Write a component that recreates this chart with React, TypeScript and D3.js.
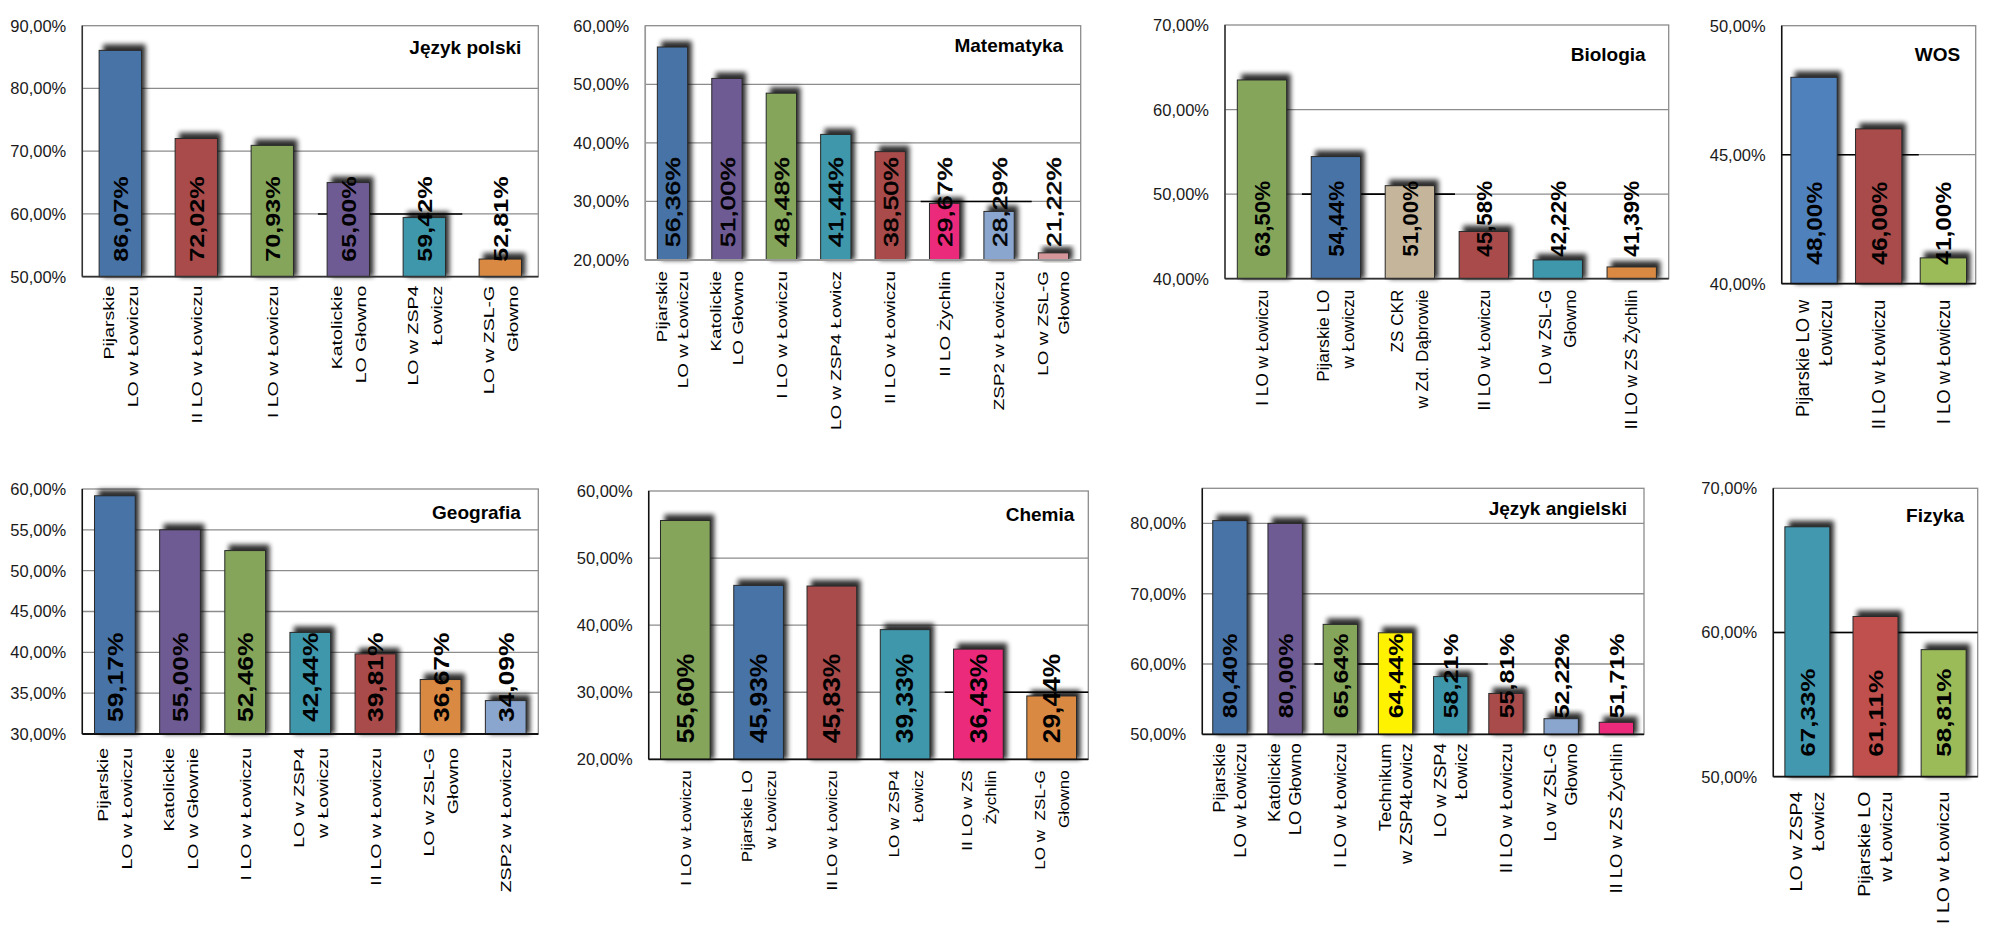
import React from 'react';
import * as d3 from 'd3';

// ---------- DATA ----------
const polskiSchools = ['Pijarskie\nLO w Łowiczu', 'II LO w Łowiczu', 'I LO w Łowiczu', 'Katolickie\nLO Głowno', 'LO w ZSP4\nŁowicz', 'LO w ZSL-G\nGłowno'];
const polskiValues = [86.07, 72.02, 70.93, 65.0, 59.42, 52.81];

const matSchools = ['Pijarskie\nLO w Łowiczu', 'Katolickie\nLO Głowno', 'I LO w Łowiczu', 'LO w ZSP4 Łowicz', 'II LO w Łowiczu', 'II LO Żychlin', 'ZSP2 w Łowiczu', 'LO w ZSL-G\nGłowno'];
const matValues = [56.36, 51.0, 48.48, 41.44, 38.5, 29.67, 28.29, 21.22];

const bioSchools = ['I LO w Łowiczu', 'Pijarskie LO\nw Łowiczu', 'ZS CKR\nw Zd. Dąbrowie', 'II LO w Łowiczu', 'LO w ZSL-G\nGłowno', 'II LO w ZS Żychlin'];
const bioValues = [63.5, 54.44, 51.0, 45.58, 42.22, 41.39];

const wosSchools = ['Pijarskie LO w\nŁowiczu', 'II LO w Łowiczu', 'I LO w Łowiczu'];
const wosValues = [48.0, 46.0, 41.0];

const geoSchools = ['Pijarskie\nLO w Łowiczu', 'Katolickie\nLO w Głownie', 'I LO w Łowiczu', 'LO w ZSP4\nw Łowiczu', 'II LO w Łowiczu', 'LO w ZSL-G\nGłowno', 'ZSP2 w Łowiczu'];
const geoValues = [59.17, 55.0, 52.46, 42.44, 39.81, 36.67, 34.09];

const chemSchools = ['I LO w Łowiczu', 'Pijarskie LO\nw Łowiczu', 'II LO w Łowiczu', 'LO w ZSP4\nŁowicz', 'II LO w ZS\nŻychlin', 'LO w  ZSL-G\nGłowno'];
const chemValues = [55.6, 45.93, 45.83, 39.33, 36.43, 29.44];

const angSchools = ['Pijarskie\nLO w Łowiczu', 'Katolickie\nLO Głowno', 'I LO w Łowiczu', 'Technikum\nw ZSP4Łowicz', 'LO w ZSP4\nŁowicz', 'II LO w Łowiczu', 'Lo w ZSL-G\nGłowno', 'II LO w ZS Żychlin'];
const angValues = [80.4, 80.0, 65.64, 64.44, 58.21, 55.81, 52.22, 51.71];

const fizSchools = ['LO w ZSP4\nŁowicz', 'Pijarskie LO\nw Łowiczu', 'I LO w Łowiczu'];
const fizValues = [67.33, 61.11, 58.81];

const polskiTicks = [50, 60, 70, 80, 90];
const matTicks = [20, 30, 40, 50, 60];
const bioTicks = [40, 50, 60, 70];
const wosTicks = [40, 45, 50];
const geoTicks = [30, 35, 40, 45, 50, 55, 60];
const chemTicks = [20, 30, 40, 50, 60];
const angTicks = [50, 60, 70, 80];
const fizTicks = [50, 60, 70];

// reference (average) line: value, from / to in category units
const polskiRef = [60, 3.1, 5.0];
const matRef = [30, 5.06, 7.1];
const bioRef = [50, 1.04, 3.11];
const wosRef = [45, 0, 2.12];
const geoRef = [30, 1.05, 5.13];
const chemRef = [30, 4.04, 6.0];
const angRef = [60, 2.03, 5.17];
const fizRef = [60, 0, 3];

// ---------- COLOURS ----------
const C = {
  blue: '#4773A7', red: '#A94B4A', green: '#84A55A', purple: '#6F5B93', teal: '#3F97AB',
  orange: '#D98942', tan: '#C4B59B', pink: '#EC2A7C', lblue: '#8AA5CE', yellow: '#FFF200',
  rose: '#D4969A', wblue: '#4F81BD', wgreen: '#9BBB59', fred: '#C0504D', fteal: '#4298AF',
};
const polskiColors = [C.blue, C.red, C.green, C.purple, C.teal, C.orange];
const matColors = [C.blue, C.purple, C.green, C.teal, C.red, C.pink, C.lblue, C.rose];
const bioColors = [C.green, C.blue, C.tan, C.red, C.teal, C.orange];
const wosColors = [C.wblue, C.red, C.wgreen];
const geoColors = [C.blue, C.purple, C.green, C.teal, C.red, C.orange, C.lblue];
const chemColors = [C.green, C.blue, C.red, C.teal, C.pink, C.orange];
const angColors = [C.blue, C.purple, C.green, C.yellow, C.teal, C.red, C.lblue, C.pink];
const fizColors = [C.fteal, C.fred, C.wgreen];

// ---------- LAYOUT ----------
type Cfg = {
  title: string; schools: string[]; values: number[]; colors: string[]; ticks: number[]; ref: number[];
  domain: [number, number]; x0: number; x1: number; y0: number; y1: number; pad: number;
  titleDx: number; titleDy: number;
  vFont: number; vStretch: number; vGap: number; vBold: boolean;
  cFont: number; cStretch: number; cLine: number; cGap: number; axisColor: string;
};

const panels: Cfg[] = [
  { title: 'Język polski', schools: polskiSchools, values: polskiValues, colors: polskiColors, ticks: polskiTicks, ref: polskiRef,
    domain: [50, 90], x0: 82.3, x1: 538.3, y0: 25.7, y1: 276.7, pad: 0.443, titleDx: 17, titleDy: 28.5,
    vFont: 21, vStretch: 1.2, vGap: 15, vBold: true, cFont: 15.5, cStretch: 1.26, cLine: 24, cGap: 9, axisColor: '#333' },
  { title: 'Matematyka', schools: matSchools, values: matValues, colors: matColors, ticks: matTicks, ref: matRef,
    domain: [20, 60], x0: 645.3, x1: 1080.7, y0: 25.7, y1: 260, pad: 0.443, titleDx: 17.5, titleDy: 26.5,
    vFont: 21, vStretch: 1.26, vGap: 13, vBold: false, cFont: 14.5, cStretch: 1.3, cLine: 21.5, cGap: 11, axisColor: '#999' },
  { title: 'Biologia', schools: bioSchools, values: bioValues, colors: bioColors, ticks: bioTicks, ref: bioRef,
    domain: [40, 70], x0: 1225, x1: 1668.7, y0: 25, y1: 278.7, pad: 0.333, titleDx: 23, titleDy: 35.5,
    vFont: 21.5, vStretch: 1.04, vGap: 22, vBold: true, cFont: 16, cStretch: 1.07, cLine: 25, cGap: 11, axisColor: '#333' },
  { title: 'WOS', schools: wosSchools, values: wosValues, colors: wosColors, ticks: wosTicks, ref: wosRef,
    domain: [40, 50], x0: 1781.7, x1: 1975.7, y0: 25.7, y1: 283.7, pad: 0.284, titleDx: 15.5, titleDy: 35.5,
    vFont: 22, vStretch: 1.11, vGap: 19, vBold: true, cFont: 18, cStretch: 1.02, cLine: 23, cGap: 16, axisColor: '#111' },
  { title: 'Geografia', schools: geoSchools, values: geoValues, colors: geoColors, ticks: geoTicks, ref: geoRef,
    domain: [30, 60], x0: 82.3, x1: 538.3, y0: 489, y1: 734, pad: 0.375, titleDx: 17.5, titleDy: 29.5,
    vFont: 22, vStretch: 1.2, vGap: 12, vBold: true, cFont: 15.5, cStretch: 1.26, cLine: 24, cGap: 14, axisColor: '#111' },
  { title: 'Chemia', schools: chemSchools, values: chemValues, colors: chemColors, ticks: chemTicks, ref: chemRef,
    domain: [20, 60], x0: 648.7, x1: 1088.3, y0: 491, y1: 759.3, pad: 0.322, titleDx: 14, titleDy: 29.5,
    vFont: 23, vStretch: 1.15, vGap: 16, vBold: true, cFont: 15.5, cStretch: 1.1, cLine: 24, cGap: 11, axisColor: '#111' },
  { title: 'Język angielski', schools: angSchools, values: angValues, colors: angColors, ticks: angTicks, ref: angRef,
    domain: [50, 85], x0: 1202.3, x1: 1644, pad: 0.378, titleDx: 17, titleDy: 26.5, y0: 488.3, y1: 734.3,
    vFont: 21, vStretch: 1.19, vGap: 16, vBold: true, cFont: 16, cStretch: 1.15, cLine: 21, cGap: 9, axisColor: '#111' },
  { title: 'Fizyka', schools: fizSchools, values: fizValues, colors: fizColors, ticks: fizTicks, ref: fizRef,
    domain: [50, 70], x0: 1773.3, x1: 1977.7, y0: 488.3, y1: 776.7, pad: 0.34, titleDx: 13.5, titleDy: 34,
    vFont: 20, vStretch: 1.3, vGap: 20, vBold: true, cFont: 16, cStretch: 1.22, cLine: 22, cGap: 15, axisColor: '#111' },
];

const FONT = '"Liberation Sans", Arial, Helvetica, sans-serif';
const fmt = (v: number) => d3.format('.2f')(v).replace('.', ',') + '%';

function Panel({ cfg }: { cfg: Cfg }) {
  const n = cfg.values.length;
  const y = d3.scaleLinear().domain(cfg.domain).range([cfg.y1, cfg.y0]);
  const x = d3.scaleBand<number>().domain(d3.range(n)).range([cfg.x0, cfg.x1])
    .paddingInner(cfg.pad).paddingOuter(cfg.pad / 2);
  const step = x.step();
  const bw = x.bandwidth();
  const [refV, refA, refB] = cfg.ref;
  return (
    <g>
      <rect x={cfg.x0} y={cfg.y0} width={cfg.x1 - cfg.x0} height={cfg.y1 - cfg.y0} fill="#fff" stroke="#8c8c8c" strokeWidth={1.3} />
      {cfg.ticks.map((t) => (
        <g key={t}>
          {t !== cfg.domain[0] && t !== cfg.domain[1] && (
            <line x1={cfg.x0} x2={cfg.x1} y1={y(t)} y2={y(t)} stroke="#8c8c8c" strokeWidth={1.3} />
          )}
          <text x={cfg.x0 - 16} y={y(t)} dy="0.36em" textAnchor="end" fontFamily={FONT} fontSize={16.5} fill="#1a1a1a">
            {fmt(t)}
          </text>
        </g>
      ))}
      <line x1={cfg.x0 + refA * step} x2={cfg.x0 + refB * step} y1={y(refV)} y2={y(refV)} stroke="#000" strokeWidth={1.6} />
      {cfg.values.map((v, i) => (
        <rect key={'s' + i} x={(x(i) as number) + 4} y={y(v) - 6} width={bw} height={cfg.y1 - y(v) + 6}
          fill="#000" opacity={0.82} filter="url(#blur)" />
      ))}
      {cfg.values.map((v, i) => (
        <rect key={'b' + i} x={x(i)} y={y(v)} width={bw} height={cfg.y1 - y(v)}
          fill={cfg.colors[i]} stroke="#2a2a2a" strokeWidth={1} />
      ))}
      <line x1={cfg.x0} x2={cfg.x0} y1={cfg.y0} y2={cfg.y1} stroke={cfg.axisColor} strokeWidth={1.5} />
      <line x1={cfg.x0} x2={cfg.x1} y1={cfg.y1} y2={cfg.y1} stroke={cfg.axisColor} strokeWidth={1.8} />
      {cfg.values.map((v, i) => {
        const cx = (x(i) as number) + bw / 2;
        return (
          <text key={'v' + i} transform={`translate(${cx},${cfg.y1 - cfg.vGap}) rotate(-90) scale(${cfg.vStretch},1)`}
            dy="0.36em" textAnchor="start" fontFamily={FONT} fontSize={cfg.vFont}
            fontWeight={cfg.vBold ? 'bold' : 'normal'} fill="#000"
            stroke={cfg.vBold ? 'none' : '#000'} strokeWidth={cfg.vBold ? 0 : 0.6}>
            {fmt(v)}
          </text>
        );
      })}
      {cfg.schools.map((s, i) => {
        const cx = (x(i) as number) + bw / 2;
        const lines = s.split('\n');
        return (
          <g key={'c' + i} transform={`translate(${cx},${cfg.y1 + cfg.cGap}) rotate(-90) scale(${cfg.cStretch},1)`}>
            {lines.map((ln, j) => (
              <text key={j} x={0} y={(j - (lines.length - 1) / 2) * cfg.cLine} dy="0.36em" textAnchor="end"
                fontFamily={FONT} fontSize={cfg.cFont} fill="#000" style={{ whiteSpace: 'pre' }}>
                {ln}
              </text>
            ))}
          </g>
        );
      })}
      <text x={cfg.x1 - cfg.titleDx} y={cfg.y0 + cfg.titleDy} textAnchor="end" fontFamily={FONT}
        fontSize={19} fontWeight="bold" fill="#000">
        {cfg.title}
      </text>
    </g>
  );
}

export default function App() {
  return (
    <div style={{ position: 'absolute', left: 0, top: 0, width: 1990, height: 926, background: '#fff', overflow: 'hidden' }}>
      <svg width={1990} height={926} viewBox="0 0 1990 926">
        <defs>
          <filter id="blur" x="-50%" y="-20%" width="200%" height="140%">
            <feGaussianBlur stdDeviation={2.8} />
          </filter>
        </defs>
        <rect x={0} y={0} width={1990} height={926} fill="#fff" />
        {panels.map((p, i) => (
          <Panel key={i} cfg={p} />
        ))}
      </svg>
    </div>
  );
}
